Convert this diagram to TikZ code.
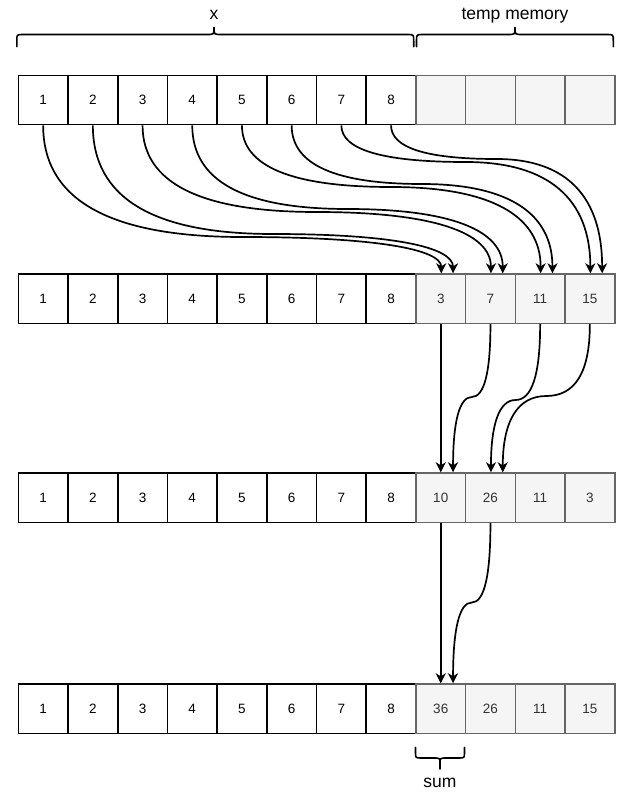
\documentclass[tikz,border=0pt]{standalone}
\usepackage{fontspec}
\setmainfont{Liberation Sans}
\usetikzlibrary{arrows.meta,calc}
\definecolor{tempfill}{HTML}{F5F5F5}
\definecolor{tempdraw}{HTML}{666666}
\definecolor{temptext}{HTML}{333333}
% quadratic-spline connector (drawio "curved" style) converted to cubic segments
\newcommand\qedge[4]{\draw[arr] let \p1=(#1.south), \p2=([xshift=#3]#2.north) in (\p1) .. controls (\x1,{\y1/3-2*#4pt/3}) and ({5*\x1/6+\x2/6},-#4pt) .. ({0.5*\x1+0.5*\x2},-#4pt) .. controls ({\x1/6+5*\x2/6},-#4pt) and (\x2,{\y2/3-2*#4pt/3}) .. (\p2);}
\begin{document}
\begin{tikzpicture}[x=1pt,y=-1pt,
  cell/.style={draw=black, line width=1.6pt, minimum width=49.7pt, minimum height=49.3pt, inner sep=0pt, anchor=north west, font=\fontsize{13.5}{16}\selectfont},
  tcell/.style={cell, draw=tempdraw, fill=tempfill, text=temptext},
  arr/.style={line width=1.7pt, -{Stealth[length=10pt,width=10pt,inset=3pt]}},
  brace/.style={line width=1.6pt, line cap=round, line join=round},
  lbl/.style={font=\fontsize{17.5}{20}\selectfont, anchor=base, inner sep=0pt}]
\useasboundingbox[fill=white] (0,0) rectangle (627,808);

% cells
\foreach \r/\t in {1/74.5,2/273.3,3/472.3,4/683.3} {
  \foreach \i in {1,...,8} {
    \node[cell] (r\r-\i) at ({17.5+49.7*(\i-1)},\t) {\i};
  }
}
\foreach \r/\t/\a/\b/\c/\d in {1/74.5/ / / / ,2/273.3/3/7/11/15,3/472.3/10/26/11/3,4/683.3/36/26/11/15} {
  \node[tcell] (r\r-9)  at ({17.5+49.7*8},\t)  {\a};
  \node[tcell] (r\r-10) at ({17.5+49.7*9},\t)  {\b};
  \node[tcell] (r\r-11) at ({17.5+49.7*10},\t) {\c};
  \node[tcell] (r\r-12) at ({17.5+49.7*11},\t) {\d};
}

% labels
\node[lbl] (lx) at (214,19.5) {x};
\node[lbl] (ltemp) at (515,19.5) {temp memory};
\node[lbl] (lsum) at (440,787.5) {sum};

% braces
\draw[brace] (16.8,46.7) -- (16.8,41) .. controls (16.8,34.5) .. (23,34.5) -- (207,34.5) .. controls (214,34.5) .. (214,27.5) .. controls (214,34.5) .. (221,34.5) -- (407.5,34.5) .. controls (413.7,34.5) .. (413.7,41) -- (413.7,46.7);
\draw[brace] (416.5,46.7) -- (416.5,41) .. controls (416.5,34.5) .. (422.7,34.5) -- (508,34.5) .. controls (515,34.5) .. (515,27.5) .. controls (515,34.5) .. (522,34.5) -- (607,34.5) .. controls (613.3,34.5) .. (613.3,41) -- (613.3,46.7);
\draw[brace] (415.5,747.3) -- (415.5,752) .. controls (415.5,758) .. (421.5,758) -- (433,758) .. controls (440,758) .. (440,763) -- (440,769) -- (440,763) .. controls (440,758) .. (447,758) -- (458.5,758) .. controls (464.5,758) .. (464.5,752) -- (464.5,747.3);

% row 1 -> row 2
\qedge{r1-1}{r2-9}{0.5pt}{237}
\qedge{r1-2}{r2-9}{12.3pt}{234}
\qedge{r1-3}{r2-10}{0.5pt}{212}
\qedge{r1-4}{r2-10}{12.3pt}{209}
\qedge{r1-5}{r2-11}{0.5pt}{187}
\qedge{r1-6}{r2-11}{12.3pt}{184}
\qedge{r1-7}{r2-12}{0.5pt}{162}
\qedge{r1-8}{r2-12}{12.3pt}{159}

% row 2 -> row 3
\draw[arr] (r2-9.south) -- (r3-9.north);
\qedge{r2-10}{r3-9}{12.3pt}{397}
\qedge{r2-11}{r3-10}{0.5pt}{400}
\qedge{r2-12}{r3-10}{12.3pt}{396}

% row 3 -> row 4
\draw[arr] (r3-9.south) -- (r4-9.north);
\qedge{r3-10}{r4-9}{12.3pt}{602.5}
\end{tikzpicture}
\end{document}
